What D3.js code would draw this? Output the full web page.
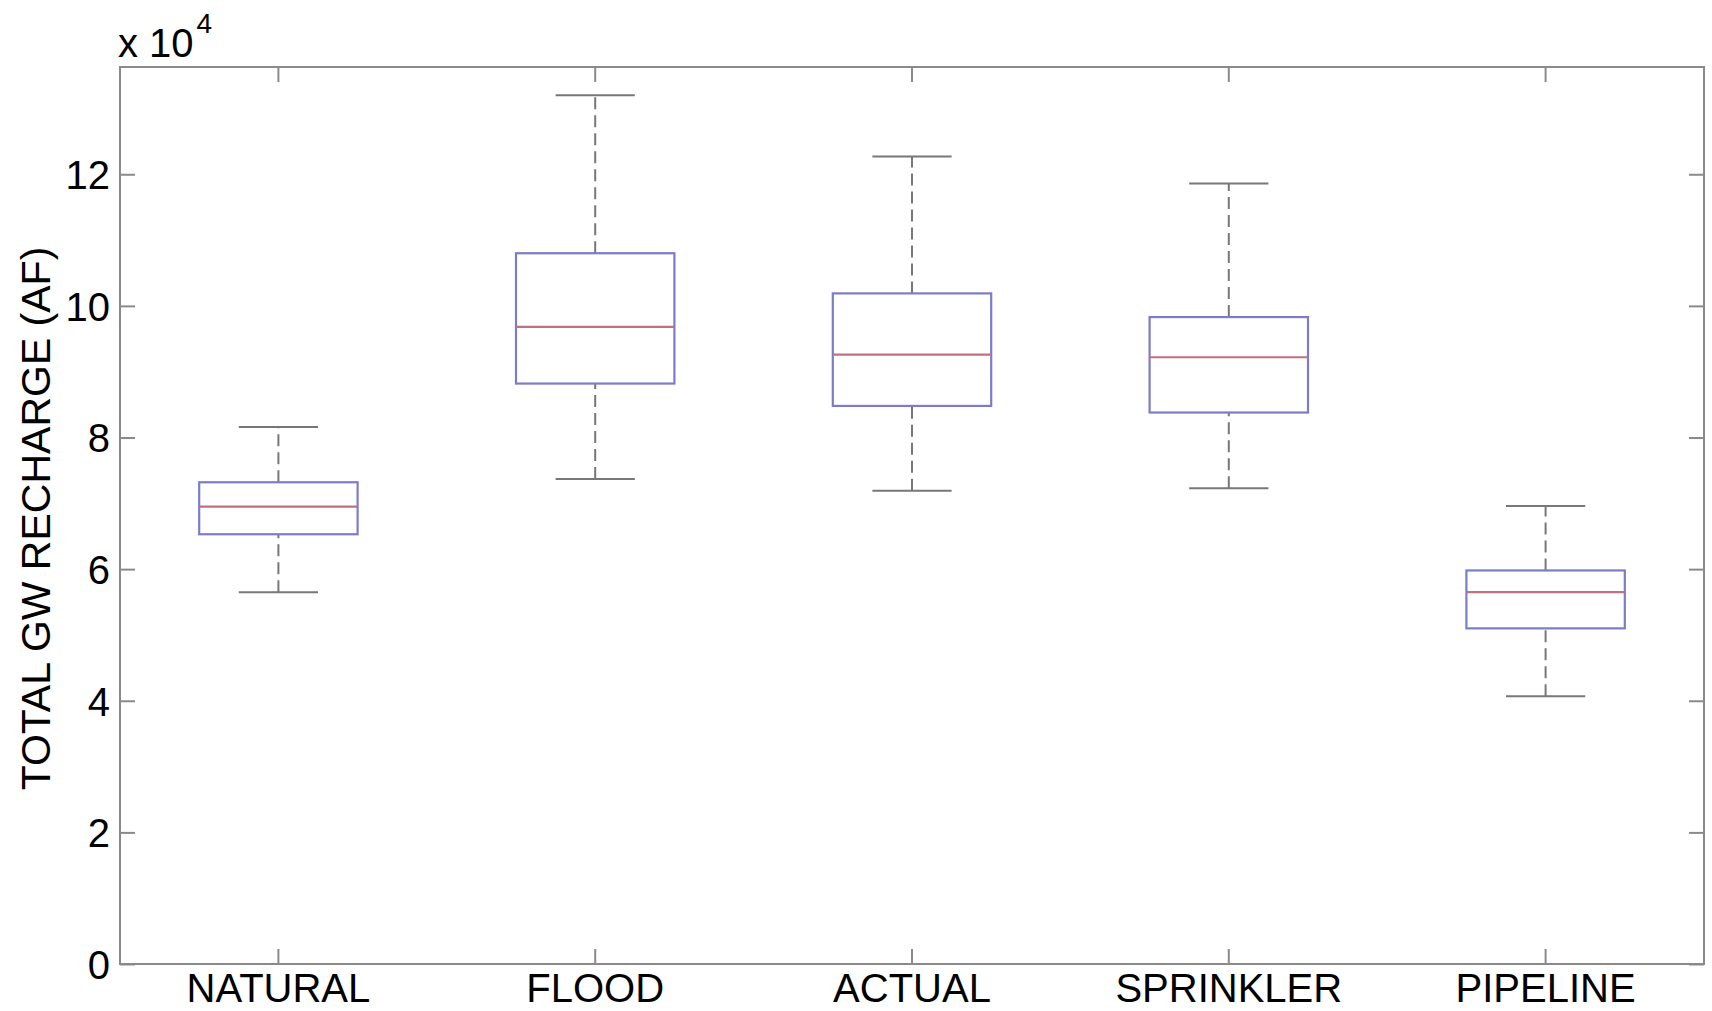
<!DOCTYPE html>
<html>
<head>
<meta charset="utf-8">
<script src="https://cdn.jsdelivr.net/npm/d3@7"></script>
<style>
  html, body { margin: 0; padding: 0; background: #fff; }
  svg { display: block; }
  text { font-family: "Liberation Sans", Arial, Helvetica, sans-serif; fill: #000; }
</style>
</head>
<body>
<svg id="chart" width="1712" height="1011"></svg>
<script>
// ---- data (total groundwater recharge, acre-feet) ----
const categories   = ["NATURAL", "FLOOD", "ACTUAL", "SPRINKLER", "PIPELINE"];
const lowerWhisker = [56500, 73700, 71900, 72300, 40700];
const q1           = [65300, 88200, 84800, 83800, 51000];
const medians      = [69500, 96800, 92600, 92200, 56500];
const q3           = [73200, 108000, 101900, 98300, 59800];
const upperWhisker = [81600, 132000, 122700, 118600, 69600];
const yTicks       = [0, 20000, 40000, 60000, 80000, 100000, 120000];
const yMax         = 136300;
const yLabel       = "TOTAL GW RECHARGE (AF)";
const exponentBase = "x 10";
const exponent     = "4";

const W = 1712, H = 1011;
const m = { left: 120, top: 67, right: 8, bottom: 47 };
const svg = d3.select("#chart");

const x = d3.scaleBand().domain(categories).range([m.left, W - m.right]).paddingInner(0).paddingOuter(0);
const y = d3.scaleLinear().domain([0, yMax]).range([H - m.bottom, m.top]);

const axisColor = "#8a8a8a";
const boxColor = "#7c7cc8";
const medColor = "#c26f80";
const whiskColor = "#777777";

const data = categories.map((c, i) => ({
  c, lo: lowerWhisker[i], q1: q1[i], med: medians[i], q3: q3[i], hi: upperWhisker[i]
}));

const cx = d => x(d.c) + x.bandwidth() / 2;
const boxHalf = x.bandwidth() * 0.25;
const capHalf = x.bandwidth() * 0.125;

// whiskers (dashed)
const g = svg.append("g");
g.selectAll("line.wup").data(data).join("line")
  .attr("x1", cx).attr("x2", cx)
  .attr("y1", d => y(d.q3)).attr("y2", d => y(d.hi))
  .attr("stroke", whiskColor).attr("stroke-width", 2).attr("stroke-dasharray", "12,6");
g.selectAll("line.wdn").data(data).join("line")
  .attr("x1", cx).attr("x2", cx)
  .attr("y1", d => y(d.lo)).attr("y2", d => y(d.q1))
  .attr("stroke", whiskColor).attr("stroke-width", 2).attr("stroke-dasharray", "12,6");
// caps
g.selectAll("line.capHi").data(data).join("line")
  .attr("x1", d => cx(d) - capHalf).attr("x2", d => cx(d) + capHalf)
  .attr("y1", d => y(d.hi)).attr("y2", d => y(d.hi))
  .attr("stroke", whiskColor).attr("stroke-width", 2);
g.selectAll("line.capLo").data(data).join("line")
  .attr("x1", d => cx(d) - capHalf).attr("x2", d => cx(d) + capHalf)
  .attr("y1", d => y(d.lo)).attr("y2", d => y(d.lo))
  .attr("stroke", whiskColor).attr("stroke-width", 2);
// boxes
g.selectAll("rect.box").data(data).join("rect")
  .attr("x", d => cx(d) - boxHalf).attr("width", boxHalf * 2)
  .attr("y", d => y(d.q3)).attr("height", d => y(d.q1) - y(d.q3))
  .attr("fill", "none").attr("stroke", boxColor).attr("stroke-width", 2.2);
// medians
g.selectAll("line.med").data(data).join("line")
  .attr("x1", d => cx(d) - boxHalf).attr("x2", d => cx(d) + boxHalf)
  .attr("y1", d => y(d.med)).attr("y2", d => y(d.med))
  .attr("stroke", medColor).attr("stroke-width", 2.2);

// axes frame
const tickLen = 15;
const fmt = v => String(v / 10000);
const styleAxis = (sel) => {
  sel.select(".domain").remove();
  sel.selectAll(".tick line").attr("stroke", axisColor).attr("stroke-width", 2);
};

// left axis
svg.append("g").attr("transform", `translate(${m.left},0)`)
  .call(d3.axisLeft(y).tickValues(yTicks).tickFormat(fmt).tickSize(-tickLen).tickPadding(10))
  .call(styleAxis)
  .call(s => s.selectAll(".tick text").attr("font-size", 40).attr("fill", "#000")
    .attr("x", -10).attr("dy", "0.36em").attr("font-family", '"Liberation Sans", Arial, sans-serif'));
// right axis ticks
svg.append("g").attr("transform", `translate(${W - m.right},0)`)
  .call(d3.axisRight(y).tickValues(yTicks).tickFormat("").tickSize(-tickLen))
  .call(styleAxis);
// bottom axis
svg.append("g").attr("transform", `translate(0,${H - m.bottom})`)
  .call(d3.axisBottom(x).tickSize(-tickLen).tickPadding(12))
  .call(styleAxis)
  .call(s => s.selectAll(".tick text").attr("font-size", 40).attr("fill", "#000")
    .attr("y", 38).attr("dy", 0).attr("font-family", '"Liberation Sans", Arial, sans-serif'));
// top axis ticks
svg.append("g").attr("transform", `translate(0,${m.top})`)
  .call(d3.axisTop(x).tickSize(-tickLen).tickFormat(""))
  .call(styleAxis);

// frame
svg.append("rect")
  .attr("x", m.left).attr("y", m.top)
  .attr("width", W - m.left - m.right).attr("height", H - m.top - m.bottom)
  .attr("fill", "none").attr("stroke", axisColor).attr("stroke-width", 2);

// exponent label
const ex = svg.append("text").attr("x", 118).attr("y", 57).attr("font-size", 40);
ex.append("tspan").text(exponentBase);
ex.append("tspan").attr("font-size", 28).attr("dy", -24).attr("dx", 3).text(exponent);

// y label
svg.append("text")
  .attr("transform", `translate(50,${(m.top + H - m.bottom) / 2 + 3}) rotate(-90)`)
  .attr("text-anchor", "middle").attr("font-size", 41)
  .text(yLabel);
</script>
</body>
</html>
